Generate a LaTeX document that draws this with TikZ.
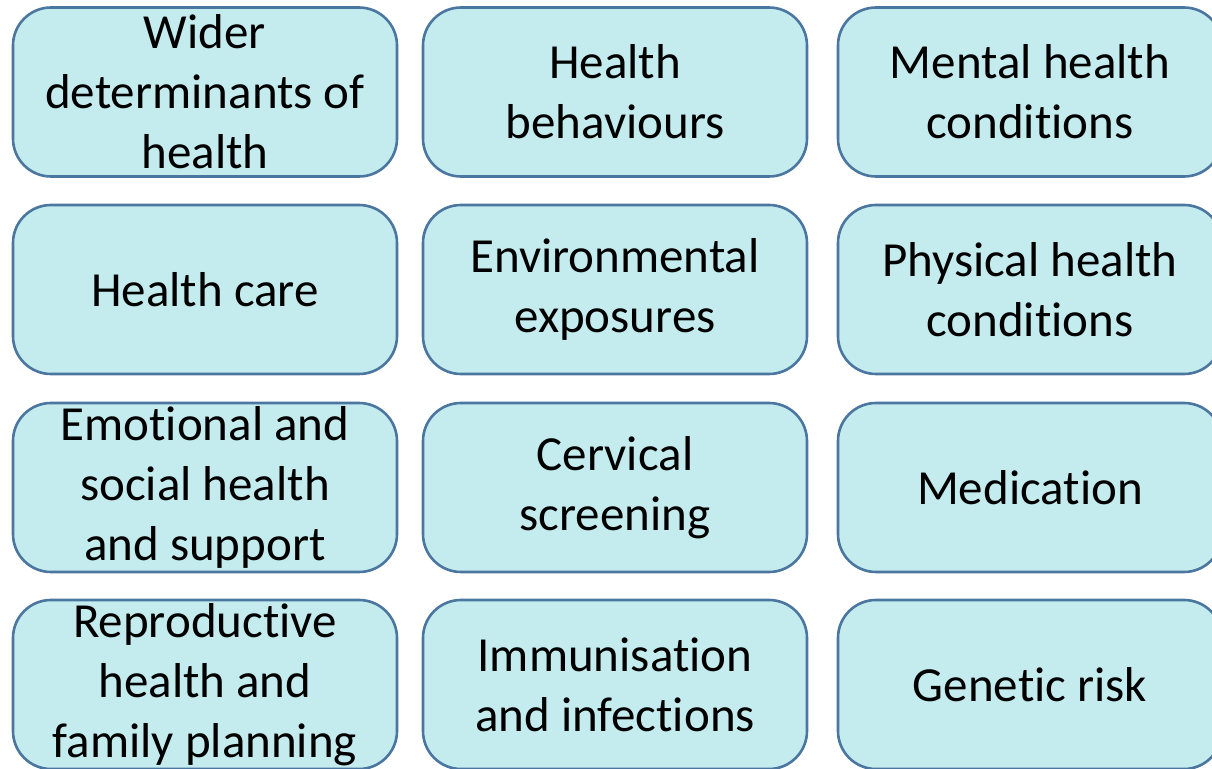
\documentclass[tikz,border=0pt]{standalone}
\usepackage{fontspec}
\setmainfont[Ligatures=NoCommon]{Carlito}
\usepackage{tikz}
\definecolor{boxfill}{HTML}{C4ECEE}
\definecolor{boxline}{HTML}{4A76A0}
\tikzstyle{factor}=[rectangle, rounded corners=19pt,
                    draw=boxline, fill=boxfill, line width=1.3pt,
                    minimum width=192pt, minimum height=84.5pt,
                    inner sep=0pt, align=center,
                    font=\fontsize{24.5}{30}\selectfont]

\begin{document}
\begin{tikzpicture}[x=0.5pt, y=-0.5pt]
     \useasboundingbox (0,0) rectangle (1212,769);
     \begin{scope}
       \node (wider)  at (205,92)    [factor]{Wider\\determinants of\\health};
       \node (behav)  at (615,92)    [factor]{Health\\behaviours};
       \node (mental) at (1030,92)   [factor]{Mental health\\conditions};
       \node (care)   at (205,289.5) [factor]{Health care};
       \node (envir)  at (615,289.5) [factor]{Environmental\\exposures};
       \node (phys)   at (1030,289.5)[factor]{Physical health\\conditions};
       \node (social) at (205,487.5) [factor]{Emotional and\\social health\\and support};
       \node (screen) at (615,487.5) [factor]{Cervical\\screening};
       \node (medic)  at (1030,487.5)[factor]{Medication};
       \node (repro)  at (205,684.5) [factor]{Reproductive\\health and\\family planning};
       \node (immun)  at (615,684.5) [factor]{Immunisation\\and infections};
       \node (genet)  at (1030,684.5)[factor]{Genetic risk};
     \end{scope}
\end{tikzpicture}
\end{document}
